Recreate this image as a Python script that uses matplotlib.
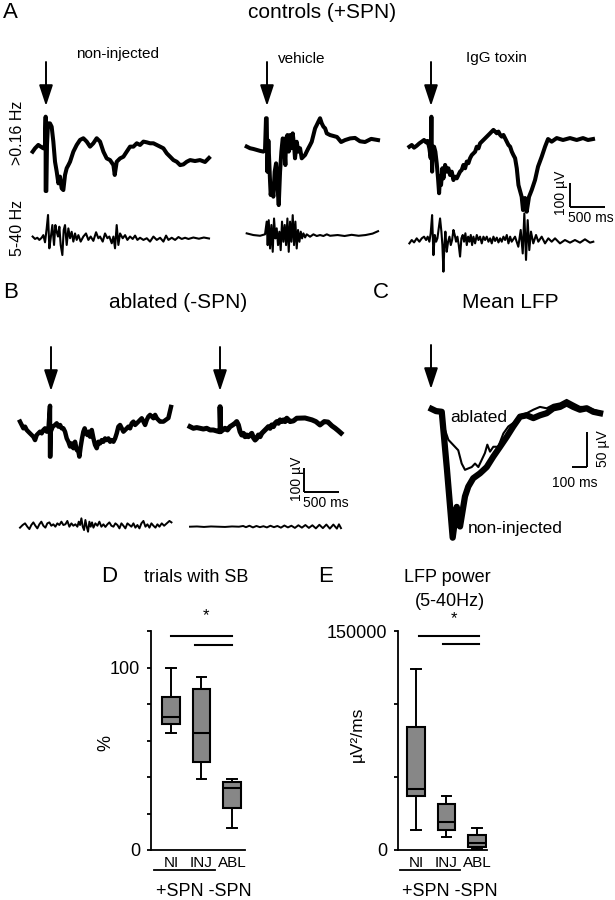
import matplotlib
matplotlib.use('Agg')
import matplotlib.pyplot as plt

plt.rcParams['font.family'] = ['Liberation Sans', 'DejaVu Sans']

W, H = 615, 900

# ---- traces: time in ms, potential in uV ----
# A, non-injected
a1_top_t = [2, 36, 83, 117, 155, 179, 188, 188, 198, 207, 222, 250, 274, 298, 322, 346, 370, 393, 417,
            441, 465, 489, 513, 537, 584, 632, 680, 727, 775, 823, 870, 918, 966, 1014, 1061, 1109,
            1157, 1176, 1204, 1252, 1300, 1347, 1395, 1443, 1491, 1538, 1586, 1634, 1681, 1729, 1777,
            1825, 1872, 1920, 1968, 2015, 2063, 2111, 2158, 2206, 2254, 2324, 2395, 2467, 2524]
a1_top_v = [-7, 7, 21, 14, 7, 21, 139, -171, -171, 21, 111, 111, 97, 35, -49, -90, -139, -111, -160,
            -167, -104, -76, -63, -49, -7, 21, 42, 49, 35, 14, 28, 49, 35, -7, -35, -42,
            -63, -104, -49, -35, -28, -7, 14, 14, 28, 21, 35, 32, 28, 28, 21,
            14, 7, -14, -28, -42, -49, -63, -60, -49, -42, -46, -42, -50, -33]
a1_bot_t = [2, 36, 69, 98, 131, 155, 179, 203, 222, 241, 260, 284, 308, 327, 346, 365, 384, 403, 427,
            446, 465, 489, 513, 537, 560, 584, 608, 632, 656, 689, 727, 765, 799, 832, 870, 909, 942,
            966, 1004, 1037, 1071, 1099, 1133, 1157, 1180, 1204, 1228, 1252, 1290, 1324, 1357, 1395,
            1433, 1467, 1500, 1538, 1586, 1634, 1681, 1729, 1777, 1825, 1872, 1910, 1944, 1991, 2039,
            2087, 2134, 2182, 2230, 2300, 2380, 2450, 2524]
a1_bot_v = [6, -4, 1, -8, 1, 12, -18, 40, 96, -43, -1, 54, -29, 54, 26, 6, 47, -29, -71,
            33, 54, -29, 40, -1, 26, -15, 19, -8, 12, -15, 6, 19, -8, 6, -12, 24, -1,
            6, -15, 19, -1, 6, -22, 6, -43, 54, -29, 19, -1, 12, -8, 6,
            -4, 10, -8, 1, -8, -1, -15, 6, -8, 1, -15, 10, -8, 1, -8,
            4, -4, 1, -4, 2, -3, 2, -2]

# A, vehicle
a2_top_t = [0, 48, 95, 143, 191, 238, 262, 276, 286, 296, 310, 334, 343, 362, 381, 400, 420, 439, 458,
            477, 496, 515, 534, 553, 563, 582, 601, 620, 639, 658, 677, 691, 715, 739, 763, 787, 811,
            835, 858, 882, 906, 930, 954, 978, 1002, 1025, 1049, 1073, 1097, 1121, 1145, 1192, 1291,
            1350, 1406, 1480, 1549, 1620, 1692, 1780, 1878]
a2_top_v = [6, -1, -4, -8, -12, -15, -8, 124, 124, -99, 31, -140, -196, -154, -203, -99, -64, -154, -238,
            -99, -15, 40, 26, -71, 40, 54, -15, 54, -1, 61, 12, -43, 26, -15, -1, -43, -36,
            -29, -15, -1, 12, 26, 54, 82, 96, 110, 124, 103, 89, 82, 61, 54, 46,
            25, 33, 40, 42, 28, 25, 38, 33]
a2_bot_t = [0, 95, 191, 262, 286, 300, 315, 334, 353, 372, 391, 410, 429, 448, 467, 486, 505, 525, 544,
            563, 582, 601, 620, 639, 658, 677, 696, 715, 734, 754, 773, 792, 811, 835, 858, 906, 954,
            1002, 1049, 1097, 1145, 1192, 1300, 1400, 1500, 1600, 1700, 1800, 1878]
a2_bot_v = [11, 4, 1, 7, 60, -38, 66, -52, 46, -66, 73, -10, 32, -38, 18, -59, 60, -24, 46,
            -38, 73, -66, 60, -24, 87, -38, 60, -52, 25, -24, 18, -10, 11, -6, 7, -3, 7,
            0, 4, 0, 7, 1, 4, 0, 5, 1, 4, 10, 20]

# A, IgG toxin
a3_top_t = [1, 35, 68, 106, 144, 178, 211, 240, 263, 287, 306, 316, 326, 335, 354, 373, 392, 411, 426,
            440, 454, 473, 488, 512, 535, 559, 583, 607, 631, 655, 679, 702, 726, 750, 774, 798, 822,
            845, 869, 893, 917, 941, 965, 989, 1012, 1036, 1060, 1084, 1108, 1132, 1156, 1179, 1203,
            1227, 1251, 1275, 1299, 1322, 1346, 1370, 1394, 1418, 1442, 1466, 1489, 1513, 1537, 1561,
            1607, 1626, 1655, 1679, 1712, 1750, 1798, 1841, 1893, 1941, 1984, 2036, 2108, 2198, 2298,
            2394, 2484, 2555, 2627]
a3_top_v = [0, 7, -4, 4, 14, 21, 28, 18, 24, -7, -48, 125, -104, -7, 0, -21, -69, -132, -194,
            -125, -160, -90, -132, -76, -104, -90, -118, -104, -139, -125, -132, -118, -104, -97, -76, -90, -62,
            -69, -48, -35, -28, -21, 0, -7, 14, 21, 28, 35, 42, 49, 56, 63, 70,
            63, 56, 63, 49, 42, 49, 35, 21, 7, 0, -21, -35, -48, -90, -160,
            -209, -264, -214, -271, -209, -181, -139, -83, -42, 0, 32, 21, 36, 28, 36,
            28, 36, 28, 32]
a3_bot_t = [1, 35, 68, 106, 144, 178, 211, 240, 263, 287, 306, 326, 345, 364, 383, 402, 421, 440, 459,
            473, 488, 502, 516, 535, 555, 574, 593, 612, 631, 650, 669, 688, 707, 726, 745, 764, 783,
            802, 822, 841, 860, 879, 898, 917, 941, 965, 989, 1012, 1036, 1060, 1084, 1108, 1132,
            1156, 1179, 1203, 1227, 1251, 1275, 1299, 1322, 1346, 1370, 1394, 1418, 1442, 1464, 1512,
            1559, 1593, 1622, 1645, 1669, 1693, 1716, 1740, 1773, 1812, 1845, 1893, 1941, 1988, 2036,
            2084, 2155, 2226, 2298, 2369, 2441, 2512, 2584, 2631]
a3_bot_v = [-7, 7, -3, 14, 0, 14, 21, 7, 21, 0, 35, 111, -56, 28, 0, 14, 56, 97, 42,
            -14, -125, -14, 42, -42, 0, 21, -14, 7, 49, 28, 0, 21, -14, -62, 14, 28, 0,
            35, -14, 21, 0, 28, -14, 21, -7, 28, 7, 21, -7, 21, 7, 21, 0,
            14, -7, 21, 3, 17, -3, 14, 0, 21, 7, 28, -7, 21, 0, 21,
            -21, 49, -49, 118, -76, 90, -35, 42, -7, 28, 0, 21, -7, 14, 0,
            14, -7, 7, -4, 7, -4, 10, -4, 0]

# B, ablated traces
b1_top_t = [0, 24, 48, 72, 96, 119, 143, 167, 191, 215, 239, 262, 286, 310, 334, 358, 382, 406, 429,
            429, 434, 439, 468, 501, 525, 549, 573, 596, 620, 644, 668, 692, 716, 739, 763, 787, 811,
            835, 849, 868, 887, 906, 925, 945, 964, 983, 1002, 1026, 1050, 1073, 1097, 1121, 1145,
            1169, 1193, 1216, 1240, 1264, 1288, 1312, 1336, 1360, 1383, 1407, 1431, 1455, 1479, 1503,
            1527, 1550, 1574, 1598, 1622, 1646, 1670, 1694, 1717, 1741, 1765, 1789, 1813, 1836, 1860,
            1884, 1908, 1932, 1956, 1979, 2003, 2051, 2122, 2159]
b1_top_v = [35, 21, 7, 14, 0, -7, -14, -21, -28, -42, -21, -14, -7, -14, 0, 7, -7, 0, 101,
            -111, -111, -7, 14, 21, 28, 14, 21, 7, 7, -7, -35, -49, -69, -56, -76, -49, -83,
            -90, -111, -69, -35, -7, 7, -14, -21, -7, -28, 0, -35, -62, -76, -49, -56,
            -42, -49, -35, -42, -35, -49, -42, -49, -35, -14, 14, 21, 7, -7, 0,
            7, 14, 7, 28, 35, 21, 28, 35, 42, 49, 35, 21, 42, 56, 63,
            56, 49, 63, 49, 42, 35, 35, 50, 96]
b1_bot_t = [0, 38, 72, 105, 134, 162, 191, 220, 248, 277, 305, 334, 363, 391, 420, 448, 477, 506, 534,
            563, 592, 620, 649, 677, 706, 735, 763, 792, 821, 840, 859, 878, 897, 916, 935, 954, 973,
            992, 1011, 1030, 1050, 1078, 1107, 1135, 1164, 1193, 1221, 1250, 1278, 1307, 1336, 1364,
            1393, 1422, 1450, 1479, 1507, 1536, 1565, 1593, 1622, 1650, 1679, 1708, 1736, 1765, 1794,
            1822, 1851, 1879, 1908, 1937, 1965, 1994, 2027, 2061, 2099, 2137, 2166]
b1_bot_v = [-4, 7, 14, 0, -10, 7, 18, 4, -7, 10, 21, 4, -4, 14, 18, 4, 10, 0, 14,
            7, 21, 7, 10, 24, 0, 14, 4, 10, 0, 21, 7, 35, 0, -14, 28, 0, -21,
            21, 0, 18, -4, 14, 4, 21, 0, 10, -1, 10, 18, 4, 0, 14,
            7, -7, 14, 4, -7, 14, 7, 0, 14, -4, 7, -7, 14, 24, 0,
            10, -4, 14, 4, -4, 10, 0, 14, 4, 14, 24, 18]
b2_top_t = [0, 48, 96, 144, 191, 239, 287, 334, 382, 420, 430, 430, 439, 468, 501, 535, 573, 611, 644,
            668, 692, 716, 740, 764, 787, 811, 835, 859, 883, 907, 931, 954, 978, 1002, 1026, 1050,
            1074, 1098, 1121, 1145, 1169, 1193, 1217, 1241, 1264, 1288, 1312, 1336, 1360, 1384, 1408,
            1431, 1479, 1527, 1645, 1745, 1800, 1859, 1920, 1973, 2030, 2074, 2120, 2159]
b2_top_v = [7, 0, 3, 0, -3, 0, -7, -7, -11, -14, -14, 90, -14, -7, 0, -7, 7, 14, 21,
            28, 14, -14, -28, -21, -35, -28, -35, -28, -21, -39, -49, -42, -28, -35, -21, -14,
            -7, 0, 7, 0, 14, 7, 21, 28, 21, 35, 28, 35, 28, 42, 35,
            28, 31, 42, 43, 35, 28, 14, 28, 26, 10, 1, -10, -20]
b2_bot_t = [0, 100, 200, 300, 400, 500, 600, 700, 760, 800, 850, 900, 950, 1000, 1050, 1100, 1150, 1200,
            1250, 1300, 1350, 1400, 1450, 1500, 1550, 1600, 1650, 1700, 1750, 1800, 1850, 1900, 1950,
            2000, 2050, 2100, 2130, 2159]
b2_bot_v = [0, 1, -1, 1, 0, -1, 1, 0, 3, -2, 4, -3, 3, -2, 2, -3, 4, -2,
            3, -4, 5, -3, 4, -5, 6, -4, 7, -5, 6, -7, 8, -6, 9,
            -8, 9, -8, 10, -6]

# C, mean LFP
c_noninj_t = [0, 29, 67, 102, 140, 167, 189, 222, 244, 277, 322, 367, 411, 456, 500, 544, 589, 634,
              678, 722, 767, 811, 856, 900, 944, 989, 1034, 1078, 1123]
c_noninj_v = [0, -3, -4, -87, -184, -140, -168, -125, -111, -99, -92, -83, -68, -54, -40, -25, -11, -9,
              -13, -9, -6, 1, 3, 8, 3, -1, 1, -4, -6]
c_abl_t = [0, 29, 67, 89, 111, 133, 155, 177, 200, 222, 244, 267, 289, 311, 333, 355, 371, 389, 411,
           444, 478, 511, 544, 589, 634, 678, 722, 767, 811, 856, 900, 944, 989, 1034, 1078, 1123]
c_abl_v = [0, -1, -6, -30, -44, -49, -54, -59, -78, -87, -85, -83, -78, -83, -73, -63, -51, -61, -54,
           -54, -35, -25, -20, -9, -6, -1, 3, 1, 6, 8, 13, 8, 3, 3, -1, -4]

# ---- box plots ----
groups = ['NI', 'INJ', 'ABL']
sb_whislo = [64, 39, 12]
sb_q1 = [69, 48, 23]
sb_med = [73, 64, 34]
sb_q3 = [84, 88, 37]
sb_whishi = [100, 95, 39]

pw_whislo = [14000, 8700, 500]
pw_q1 = [37000, 13700, 2300]
pw_med = [42000, 19000, 4600]
pw_q3 = [84000, 31500, 10300]
pw_whishi = [124000, 37000, 14800]

# display scales of the original figure (units per pixel)
AB_MS_PX = 14.3    # ms per pixel, panels A and B
AB_UV_PX = 4.17    # uV per pixel, panels A and B
C_MS_PX = 6.67
C_UV_PX = 1.43


def trace_axes(fig, x0, y0, ms_px, uv_px):
    """Full-figure axes whose origin sits at pixel (x0, y0)."""
    ax = fig.add_axes([0, 0, 1, 1])
    ax.set_xlim(-x0 * ms_px, (W - x0) * ms_px)
    ax.set_ylim(-(H - y0) * uv_px, y0 * uv_px)
    ax.axis('off')
    return ax


def arrow(ov, x, y1, y2):
    ov.annotate('', xy=(x, y2), xytext=(x, y1),
                arrowprops=dict(arrowstyle='-|>,head_length=0.85,head_width=0.28',
                                lw=1.4, color='k', shrinkA=0, shrinkB=0,
                                mutation_scale=15))


def scale_bar(ov, x, y, ms, uv, ms_px, uv_px, left=False):
    dx = ms / ms_px
    ov.plot([x, x], [y, y - uv / uv_px], color='k', lw=1.4, solid_capstyle='butt')
    ov.plot([x - dx if left else x, x if left else x + dx], [y, y],
            color='k', lw=1.4, solid_capstyle='butt')


def box_panel(fig, rect, stats_lists, ylim, ticks, ticklabels, xlim):
    ax = fig.add_axes(rect)
    whislo, q1, med, q3, whishi = stats_lists
    stats = [dict(whislo=whislo[i], q1=q1[i], med=med[i], q3=q3[i], whishi=whishi[i], label=g)
             for i, g in enumerate(groups)]
    ax.bxp(stats, positions=[1, 2, 3], widths=0.58, patch_artist=True, showfliers=False,
           capwidths=0.32,
           boxprops=dict(facecolor='#878787', edgecolor='k', lw=1.5),
           medianprops=dict(color='k', lw=1.5),
           whiskerprops=dict(color='k', lw=1.4),
           capprops=dict(color='k', lw=1.4))
    ax.set_xlim(*xlim)
    ax.set_ylim(*ylim)
    ax.set_yticks(ticks)
    ax.set_yticklabels(ticklabels, fontsize=13)
    ax.tick_params(axis='y', length=3, width=1.3, pad=5)
    ax.tick_params(axis='x', length=0, pad=4, labelsize=11)
    for s in ['top', 'right']:
        ax.spines[s].set_visible(False)
    for s in ['left', 'bottom']:
        ax.spines[s].set_linewidth(1.3)
    ax.patch.set_visible(False)
    return ax


fig = plt.figure(figsize=(W / 100, H / 100), dpi=100)

ov = fig.add_axes([0, 0, 1, 1])
ov.set_xlim(0, W)
ov.set_ylim(H, 0)
ov.axis('off')

# ---------------- panel A ----------------
ov.text(3, 12, 'A', fontsize=16, ha='left', va='center')
ov.text(322, 12, 'controls (+SPN)', fontsize=15, ha='center', va='center')
ov.text(118, 54, 'non-injected', fontsize=11, ha='center', va='center')
ov.text(302, 59, 'vehicle', fontsize=11, ha='center', va='center')
ov.text(496, 58, 'IgG toxin', fontsize=11, ha='center', va='center')
ov.text(18, 133, '>0.16 Hz', fontsize=11.5, rotation=90, ha='center', va='center')
ov.text(18, 228, '5-40 Hz', fontsize=11.5, rotation=90, ha='center', va='center')
for x in [46, 267, 431]:
    arrow(ov, x, 62, 106)

placements_a = [
    (a1_top_t, a1_top_v, 32.5, 150, 2.9),
    (a1_bot_t, a1_bot_v, 32.5, 238, 1.5),
    (a2_top_t, a2_top_v, 246.7, 148, 2.9),
    (a2_bot_t, a2_bot_v, 246.7, 236, 1.5),
    (a3_top_t, a3_top_v, 409.3, 146.7, 2.9),
    (a3_bot_t, a3_bot_v, 409.3, 241.7, 1.5),
]
for t, v, x0, y0, lw in placements_a:
    ax = trace_axes(fig, x0, y0, AB_MS_PX, AB_UV_PX)
    ax.plot(t, v, color='k', lw=lw, solid_joinstyle='round')

scale_bar(ov, 570, 207, 500, 100, AB_MS_PX, AB_UV_PX)
ov.text(561, 193, '100 µV', fontsize=10, rotation=90, ha='center', va='center')
ov.text(591, 218, '500 ms', fontsize=10, ha='center', va='center')

# ---------------- panel B ----------------
ov.text(3, 292, 'B', fontsize=16, ha='left', va='center')
ov.text(178, 303, 'ablated (-SPN)', fontsize=15, ha='center', va='center')
for x in [51, 220]:
    arrow(ov, x, 347, 391)

placements_b = [
    (b1_top_t, b1_top_v, 20, 430, 3.2),
    (b1_bot_t, b1_bot_v, 20, 526.7, 1.4),
    (b2_top_t, b2_top_v, 190, 428.3, 3.6),
    (b2_bot_t, b2_bot_v, 190, 526.7, 1.4),
]
for t, v, x0, y0, lw in placements_b:
    ax = trace_axes(fig, x0, y0, AB_MS_PX, AB_UV_PX)
    ax.plot(t, v, color='k', lw=lw, solid_joinstyle='round')

scale_bar(ov, 304, 492, 500, 100, AB_MS_PX, AB_UV_PX)
ov.text(297, 479, '100 µV', fontsize=10, rotation=90, ha='center', va='center')
ov.text(326, 503, '500 ms', fontsize=10, ha='center', va='center')

# ---------------- panel C ----------------
ov.text(373, 292, 'C', fontsize=16, ha='left', va='center')
ov.text(510, 303, 'Mean LFP', fontsize=15, ha='center', va='center')
arrow(ov, 431, 345, 389)

axc = trace_axes(fig, 431.7, 409, C_MS_PX, C_UV_PX)
axc.plot(c_noninj_t, c_noninj_v, color='k', lw=4.5, solid_joinstyle='round')
axc.plot(c_abl_t, c_abl_v, color='k', lw=1.5, solid_joinstyle='round')
ov.text(479, 418, 'ablated', fontsize=12.5, ha='center', va='center')
ov.text(515, 529, 'non-injected', fontsize=12.5, ha='center', va='center')

scale_bar(ov, 587, 467, 100, 50, C_MS_PX, C_UV_PX, left=True)
ov.text(603, 449, '50 µV', fontsize=10, rotation=90, ha='center', va='center')
ov.text(575, 483, '100 ms', fontsize=10, ha='center', va='center')

# ---------------- panel D ----------------
ov.text(101, 576, 'D', fontsize=16, ha='left', va='center')
ov.text(196, 578, 'trials with SB', fontsize=13, ha='center', va='center')
axd = box_panel(fig, [151 / W, 1 - 850 / H, 94 / W, 219 / H],
                [sb_whislo, sb_q1, sb_med, sb_q3, sb_whishi],
                (0, 120), list(range(0, 121, 20)), ['0', '', '', '', '', '100', ''],
                (0.34, 3.43))
axd.set_ylabel('%', fontsize=13)
axd.yaxis.set_label_coords(-0.39, 0.49)
axd.plot([1, 3], [117.3, 117.3], color='k', lw=1.5, clip_on=False)
axd.plot([1.79, 3], [112.6, 112.6], color='k', lw=1.5, clip_on=False)
axd.text(2.15, 128.5, '*', fontsize=12, ha='center', va='center')
tr = axd.get_xaxis_transform()
axd.plot([0.43, 2.43], [-0.092, -0.092], color='k', lw=1.3, transform=tr, clip_on=False)
axd.text(2.08, -0.19, '+SPN -SPN', fontsize=13, ha='center', va='center', transform=tr)

# ---------------- panel E ----------------
ov.text(318, 576, 'E', fontsize=16, ha='left', va='center')
ov.text(447, 578, 'LFP power', fontsize=13, ha='center', va='center')
ov.text(450, 602, '(5-40Hz)', fontsize=13, ha='center', va='center')
axe = box_panel(fig, [398 / W, 1 - 850 / H, 89 / W, 219 / H],
                [pw_whislo, pw_q1, pw_med, pw_q3, pw_whishi],
                (0, 150000), [0, 50000, 100000, 150000], ['0', '', '', '150000'],
                (0.41, 3.33))
axe.set_ylabel('µV²/ms', fontsize=12.5)
axe.yaxis.set_label_coords(-0.37, 0.53)
axe.plot([1.1, 3.07], [146600, 146600], color='k', lw=1.5, clip_on=False)
axe.plot([1.89, 3.07], [141100, 141100], color='k', lw=1.5, clip_on=False)
axe.text(2.25, 158200, '*', fontsize=12, ha='center', va='center')
tr = axe.get_xaxis_transform()
axe.plot([0.475, 2.44], [-0.092, -0.092], color='k', lw=1.3, transform=tr, clip_on=False)
axe.text(2.1, -0.19, '+SPN -SPN', fontsize=13, ha='center', va='center', transform=tr)

fig.savefig('out.png', dpi=100)
